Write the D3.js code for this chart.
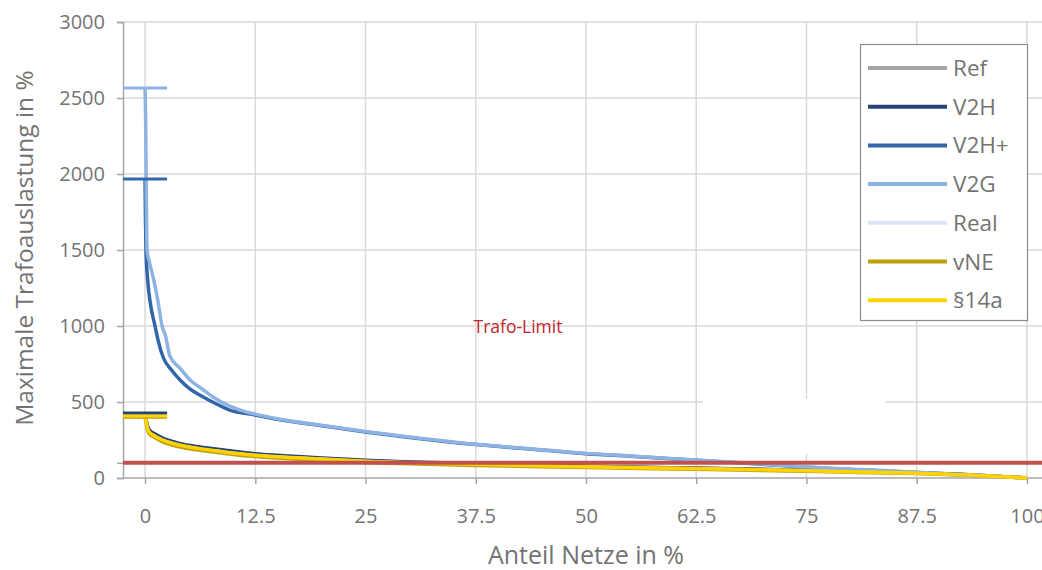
<!DOCTYPE html>
<html><head><meta charset="utf-8">
<script src="https://cdn.jsdelivr.net/npm/d3@7"></script>
<style>body{margin:0;background:#fff}svg{display:block;font-family:"Open Sans","Noto Sans",sans-serif}</style>
</head><body><svg id="c" width="1042" height="570"></svg>
<script>
const xTicks = [0, 12.5, 25, 37.5, 50, 62.5, 75, 87.5, 100];
const yTicks = [0, 500, 1000, 1500, 2000, 2500, 3000];
const trafoLimit = 100;

const xV2G  = [0, 0.08, 0.15, 0.23, 0.5, 1, 1.5, 1.93, 2.3, 2.83, 4, 5.1, 6.5, 7.7, 9, 10.8, 12.5, 15, 20, 25, 30, 37.5, 45, 50, 56, 62.5, 70, 75, 81, 87.5, 94, 100];
const V2G   = [2566, 2300, 1800, 1500, 1420, 1300, 1150, 1000, 940, 800, 720, 645, 585, 533, 490, 447, 420, 390, 347, 306, 270, 222, 186, 162, 142, 118, 92, 72, 56, 38, 18, 0];
const xV2Hp = [0, 0.05, 0.11, 0.3, 0.6, 1.13, 1.5, 2.04, 3, 3.97, 5, 6.6, 8, 9.6, 12.5, 15, 20, 25, 30, 37.5, 45, 50, 56, 62.5, 70, 75, 81, 87.5, 94, 100];
const V2Hp  = [1967, 1700, 1500, 1300, 1150, 1000, 900, 796, 710, 645, 590, 533, 490, 447, 415, 386, 344, 303, 267, 220, 184, 160, 140, 116, 90, 70, 54, 36, 16, 0];

const xLow  = [0, 0.1, 0.3, 0.6, 1, 2, 3, 4, 6, 8, 10, 12.5, 15, 20, 25, 30, 37.5, 45, 50, 56, 62.5, 70, 75, 81, 87.5, 94, 100];
const Ref   = [420, 390, 330, 305, 290, 258, 238, 222, 202, 187, 172, 157, 146, 130, 115, 104, 93, 83, 77, 70, 64, 56, 49, 41, 33, 19, 0];
const V2H   = [428, 395, 336, 310, 294, 262, 242, 226, 206, 191, 176, 160, 149, 132, 117, 106, 95, 85, 78, 71, 65, 57, 50, 42, 34, 20, 0];
const Real  = [405, 375, 318, 292, 278, 247, 228, 212, 192, 177, 162, 148, 138, 123, 108, 98, 88, 78, 72, 66, 60, 53, 46, 38, 30, 17, 0];
const vNE   = [400, 368, 310, 284, 270, 238, 218, 203, 184, 169, 155, 141, 131, 116, 102, 93, 83, 74, 69, 63, 57, 50, 44, 37, 29, 16, 0];
const P14a  = [408, 380, 320, 295, 280, 250, 230, 215, 195, 180, 165, 150, 140, 125, 110, 100, 90, 80, 74, 68, 62, 55, 48, 40, 32, 18, 0];

const names  = ["Ref", "V2H", "V2H+", "V2G", "Real", "vNE", "§14a"];
const colors = ["#a5a5a5", "#264478", "#3366a8", "#8db3e2", "#dbe6f5", "#bf9f0a", "#ffd300"];

const series = [
  {name:"Ref", x:xLow, y:Ref},
  {name:"V2H", x:xLow, y:V2H},
  {name:"V2H+", x:xV2Hp, y:V2Hp},
  {name:"V2G", x:xV2G, y:V2G},
  {name:"Real", x:xLow, y:Real},
  {name:"vNE", x:xLow, y:vNE},
  {name:"§14a", x:xLow, y:P14a}
];
const color = d3.scaleOrdinal().domain(names).range(colors);

const svg = d3.select("#c");
const x = d3.scaleLinear().domain([-2.5, 102.5]).range([123, 1049]);
const y = d3.scaleLinear().domain([0, 3000]).range([478, 22]);
const grid = "#d9d9d9", axisC = "#a6a6a6", txt = "#737373";

// gridlines
svg.append("g").selectAll("line").data(yTicks.filter(d => d > 0)).join("line")
  .attr("x1", x(-2.5)).attr("x2", 1042).attr("y1", d => y(d)).attr("y2", d => y(d))
  .attr("stroke", grid).attr("stroke-width", 1.5);
svg.append("g").selectAll("line").data(xTicks).join("line")
  .attr("x1", d => x(d)).attr("x2", d => x(d)).attr("y1", y(3000)).attr("y2", y(0))
  .attr("stroke", grid).attr("stroke-width", 1.5);
// empty white text box covering grid
svg.append("rect").attr("x", 703).attr("y", 399).attr("width", 183).attr("height", 55).attr("fill", "#fff");

// axes
const yAxis = svg.append("g").attr("transform", `translate(${x(-2.5)},0)`)
  .call(d3.axisLeft(y).tickValues(yTicks.concat([trafoLimit])).tickSize(6).tickPadding(12).tickFormat(d => d === trafoLimit ? "" : d));
const xAxis = svg.append("g").attr("transform", `translate(0,${y(0)})`)
  .call(d3.axisBottom(x).tickValues(xTicks).tickSize(6).tickPadding(25).tickFormat(d => d));
xAxis.select(".domain").remove();
svg.append("line").attr("x1", x(-2.5)).attr("x2", 1042).attr("y1", y(0)).attr("y2", y(0)).attr("stroke", axisC).attr("stroke-width", 1.5);
[yAxis, xAxis].forEach(a => {
  a.selectAll(".domain").attr("stroke", axisC).attr("stroke-width", 1.5);
  a.selectAll(".tick line").attr("stroke", axisC).attr("stroke-width", 1.5);
  a.selectAll(".tick text").attr("fill", txt).attr("font-size", 20).attr("font-family", '"Open Sans","Noto Sans",sans-serif');
});

// titles
svg.append("text").attr("x", 586).attr("y", 564).attr("text-anchor", "middle")
  .attr("fill", txt).attr("font-size", 25).text("Anteil Netze in %");
svg.append("text").attr("transform", "translate(33,248) rotate(-90)").attr("text-anchor", "middle")
  .attr("fill", txt).attr("font-size", 24.5).text("Maximale Trafoauslastung in %");

// series lines
const line = d3.line().x(d => x(d[0])).y(d => y(d[1])).curve(d3.curveMonotoneX);
series.forEach(s => {
  const pts = s.x.map((v, i) => [v, s.y[i]]);
  svg.append("path").attr("d", line(pts)).attr("fill", "none")
    .attr("stroke", color(s.name)).attr("stroke-width", 3.5).attr("stroke-linejoin", "round");
});
// max caps
series.forEach(s => {
  const m = d3.max(s.y);
  svg.append("line").attr("x1", x(-2.5)).attr("x2", x(2.5)).attr("y1", y(m)).attr("y2", y(m))
    .attr("stroke", color(s.name)).attr("stroke-width", 3);
});

// trafo limit
svg.append("line").attr("x1", x(-2.5)).attr("x2", 1042).attr("y1", y(trafoLimit)).attr("y2", y(trafoLimit))
  .attr("stroke", "#c0504d").attr("stroke-width", 4);
svg.append("text").attr("x", 518).attr("y", 333).attr("text-anchor", "middle")
  .attr("fill", "#c0262d").attr("font-size", 17.5).text("Trafo-Limit");

// legend
const lg = svg.append("g");
lg.append("rect").attr("x", 860.5).attr("y", 44.5).attr("width", 167).attr("height", 276)
  .attr("fill", "#fff").attr("stroke", "#8c8c8c").attr("stroke-width", 1.2);
names.forEach((n, i) => {
  const cy = 68 + i * 38.7;
  lg.append("line").attr("x1", 868).attr("x2", 947).attr("y1", cy).attr("y2", cy)
    .attr("stroke", color(n)).attr("stroke-width", 4);
  lg.append("text").attr("x", 953).attr("y", cy + 8).attr("fill", txt).attr("font-size", 22.5).text(n);
});
</script></body></html>
